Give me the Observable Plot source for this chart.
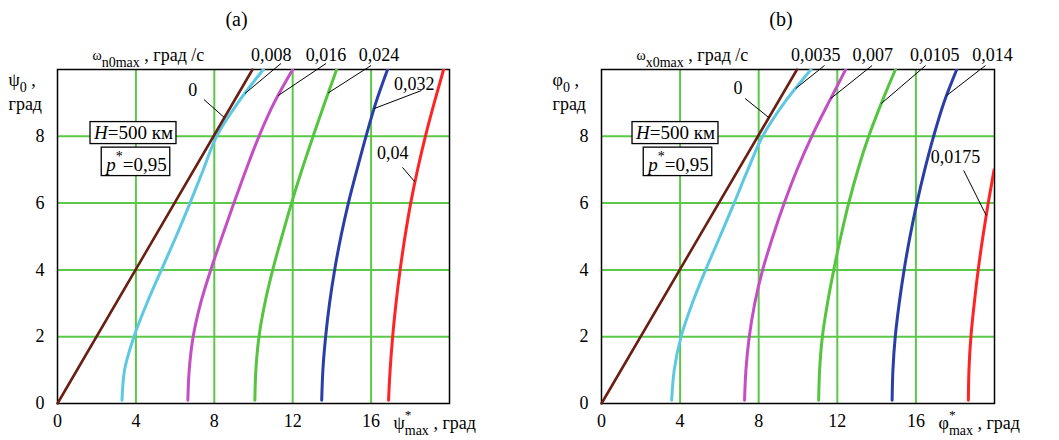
<!DOCTYPE html>
<html><head><meta charset="utf-8">
<script src="https://cdn.jsdelivr.net/npm/d3@7"></script>
<script src="https://cdn.jsdelivr.net/npm/@observablehq/plot@0.6"></script>
<style>
body{margin:0;background:#fff;}
#wrap{display:flex;width:1059px;height:440px;overflow:hidden;}
svg, svg text, svg tspan{font-family:"Liberation Serif","Times New Roman",serif !important;}
</style></head><body><div id="wrap"></div>
<script>
// ---------- shared data ----------
const yLevels = [0.1, 1, 2, 3, 4, 5, 6, 7, 8, 9, 10];
const baseY = [0, 10];
const baseX = [0, 9.95];
const xTicks = [0, 4, 8, 12, 16];
const yTicks = [0, 2, 4, 6, 8];
const xGrid = [4, 8, 12, 16];
const yGrid = [2, 4, 6, 8];
const colors = ["#6a1f12", "#5ec8e2", "#c44ec4", "#55c43f", "#2a3ea8", "#ff2424"];

// ---------- panel (a) ----------
const titleA = "(a)";
const legendTitleA = "!{ω}_{n0max} , град /с";
const yTitleA = "ψ_{0} ,";
const xTitleA = "ψ^{*}_{max} , град";
const labelsA = ["0", "0,008", "0,016", "0,024", "0,032", "0,04"];
const cyanA    = [3.29, 3.42, 3.90, 4.56, 5.30, 6.05, 6.76, 7.44, 8.12, 9.20, 10.50];
const magentaA = [6.65, 6.72, 6.92, 7.30, 7.82, 8.40, 9.00, 9.62, 10.28, 11.05, 12.00];
const greenA   = [10.07, 10.12, 10.28, 10.58, 10.98, 11.45, 11.94, 12.47, 13.04, 13.63, 14.24];
const blueA    = [13.48, 13.54, 13.68, 13.88, 14.14, 14.46, 14.84, 15.28, 15.74, 16.24, 16.84];
const redA     = [16.89, 16.97, 17.10, 17.27, 17.48, 17.73, 18.02, 18.37, 18.77, 19.22, 19.70];
const labelXA  = [6.9, 10.9, 13.7, 16.4, 18.2, 17.1];
const labelYA  = [9.37, 10.42, 10.42, 10.42, 9.55, 7.5];
const leadXA   = [7.47, 11.4, 13.7, 16.0, 18.57, 17.6];
const leadYA   = [9.1, 10.18, 10.18, 10.12, 9.37, 7.07];
const targetYA = [8.56, 9.28, 9.22, 9.3, 8.83, 6.63];

// ---------- panel (b) ----------
const titleB = "(b)";
const legendTitleB = "!{ω}_{x0max} , град /с";
const yTitleB = "φ_{0} ,";
const xTitleB = "φ^{*}_{max} , град";
const labelsB = ["0", "0,0035", "0,007", "0,0105", "0,014", "0,0175"];
const cyanB    = [3.57, 3.70, 4.05, 4.62, 5.30, 6.03, 6.75, 7.45, 8.20, 9.30, 10.66];
const magentaB = [7.28, 7.35, 7.52, 7.80, 8.20, 8.72, 9.30, 9.95, 10.70, 11.55, 12.43];
const greenB   = [11.05, 11.10, 11.24, 11.50, 11.82, 12.18, 12.58, 13.05, 13.60, 14.25, 14.96];
const blueB    = [14.79, 14.83, 14.95, 15.15, 15.40, 15.70, 16.05, 16.45, 16.90, 17.42, 18.08];
const redB     = [18.67, 18.70, 18.80, 18.97, 19.17, 19.41, 19.68, 19.98];
const labelXB  = [6.95, 10.9, 13.8, 16.96, 19.9, 18.02];
const labelYB  = [9.43, 10.42, 10.42, 10.42, 10.42, 7.37];
const leadXB   = [7.31, 11.35, 13.77, 16.5, 19.54, 18.43];
const leadYB   = [9.13, 10.12, 10.12, 10.12, 10.12, 6.98];
const targetYB = [8.56, 9.43, 9.13, 8.98, 9.22, 5.63];

const unitText = "град";
const boxH = "~{H}=500 км";
const boxP = "~{p}^{*}=0,95";

// ---------- helpers ----------
const FONT = "'Liberation Serif', 'Times New Roman', serif";

function interpX(xs, ys, ty) {
  for (let i = 0; i < xs.length - 1; i++) {
    if (ty >= ys[i] && ty <= ys[i + 1]) {
      const t = (ty - ys[i]) / (ys[i + 1] - ys[i]);
      return xs[i] + t * (xs[i + 1] - xs[i]);
    }
  }
  return xs[xs.length - 1];
}

function makePanel(P) {
  const series = [
    {x: baseX, y: baseY},
    ...P.curves.map(xs => ({x: xs, y: yLevels.slice(0, xs.length)}))
  ];
  const rows = [];
  series.forEach((s, k) => { if (k > 0) s.x.forEach((x, j) => rows.push({x, y: s.y[j], k})); });
  const baseRows = baseX.map((x, j) => ({x, y: baseY[j]}));
  const ann = P.labels.map((text, i) => ({
    text,
    lx: P.labelX[i], ly: P.labelY[i],
    sx: P.leadX[i], sy: P.leadY[i],
    tx: interpX(series[i].x, series[i].y, P.targetY[i]), ty: P.targetY[i]
  }));
  const txt = {fill: "black", stroke: null, fontFamily: FONT, lineAnchor: "middle"};
  return Plot.plot({
    width: P.width, height: 440,
    marginLeft: P.ml, marginRight: P.mr, marginTop: 69, marginBottom: 37,
    x: {domain: [0, 20], ticks: xTicks, tickSize: 0, tickPadding: 11, label: null, tickFormat: d => String(d)},
    y: {domain: [0, 10], ticks: yTicks, tickSize: 0, tickPadding: 13, label: null, tickFormat: d => String(d)},
    style: {fontFamily: FONT, fontSize: "18px", color: "black", background: "white", overflow: "visible"},
    marks: [
      Plot.gridX(xGrid, {stroke: "#5cc84a", strokeOpacity: 1, strokeWidth: 2}),
      Plot.gridY(yGrid, {stroke: "#5cc84a", strokeOpacity: 1, strokeWidth: 2}),
      Plot.frame({stroke: "black", strokeWidth: 1.5}),
      Plot.line(rows, {x: "x", y: "y", z: "k", stroke: d => colors[d.k], strokeWidth: 3, curve: "monotone-y", clip: true}),
      Plot.line(baseRows, {x: "x", y: "y", stroke: colors[0], strokeWidth: 2.6}),
      Plot.link(ann, {x1: "sx", y1: "sy", x2: "tx", y2: "ty", stroke: "black", strokeWidth: 1}),
      Plot.text(ann, {x: "lx", y: "ly", text: "text", fontSize: 18, textAnchor: "middle", ...txt}),
      Plot.text([P.title], {frameAnchor: "top", dx: -17, dy: -50, fontSize: 20, textAnchor: "middle", ...txt}),
      Plot.text([P.legendTitle], {frameAnchor: "top-left", dx: 35, dy: -14, textAnchor: "start", fontSize: 18, ...txt}),
      Plot.text([P.yTitle], {frameAnchor: "top-left", dx: -49, dy: 11, textAnchor: "start", fontSize: 18, ...txt}),
      Plot.text([unitText], {frameAnchor: "top-left", dx: -49, dy: 35, textAnchor: "start", fontSize: 18, ...txt}),
      Plot.text([P.xTitle], {frameAnchor: "bottom-right", dx: -56, dy: 20, textAnchor: "start", fontSize: 18, ...txt}),
      Plot.text([boxH], {frameAnchor: "top-left", dx: P.boxDx, dy: 63.5, fontSize: 19, textAnchor: "middle", ariaLabel: () => "boxed", ...txt}),
      Plot.text([boxP], {frameAnchor: "top-left", dx: P.boxDx + 3, dy: 95.5, fontSize: 19, textAnchor: "middle", ariaLabel: () => "boxed", ...txt})
    ]
  });
}

function richify(root) {
  const NS = "http://www.w3.org/2000/svg";
  root.querySelectorAll("text").forEach(t => {
    const s = t.textContent;
    if (!/[_^~!]\{/.test(s)) return;
    const parts = s.split(/([_^~!]\{[^}]*\})/).filter(p => p !== "");
    const fs = parseFloat(getComputedStyle(t).fontSize) || 17;
    while (t.firstChild) t.removeChild(t.firstChild);
    let shift = 0, prevKind = null, lastSupLen = 0;
    parts.forEach(p => {
      const ts = document.createElementNS(NS, "tspan");
      let kind = "n", str = p;
      const m = p.match(/^([_^~!])\{([^}]*)\}$/);
      if (m) { kind = m[1]; str = m[2]; }
      let target = 0;
      if (kind === "_") { target = fs * 0.3; ts.setAttribute("font-size", (fs * 0.78).toFixed(1)); }
      else if (kind === "^") { target = -fs * 0.55; ts.setAttribute("font-size", (fs * 0.74).toFixed(1)); }
      else if (kind === "!") { target = -fs * 0.05; ts.setAttribute("font-size", (fs * 0.78).toFixed(1)); }
      else if (kind === "~") { ts.setAttribute("font-style", "italic"); }
      const dy = target - shift;
      if (Math.abs(dy) > 0.01) ts.setAttribute("dy", dy.toFixed(2));
      shift = target;
      ts.textContent = str;
      t.appendChild(ts);
      if (kind === "_" && prevKind === "^") ts.setAttribute("dx", (-lastSupLen).toFixed(2));
      if (kind === "^") lastSupLen = ts.getComputedTextLength();
      prevKind = kind;
    });
  });
}

function boxify(root) {
  const NS = "http://www.w3.org/2000/svg";
  root.querySelectorAll('[aria-label="boxed"]').forEach(el => {
    const texts = el.tagName.toLowerCase() === "text" ? [el] : Array.from(el.querySelectorAll("text"));
    texts.forEach(t => {
      const b = t.getBBox();
      const r = document.createElementNS(NS, "rect");
      const px = 3, py = 0.5;
      r.setAttribute("x", b.x - px);
      r.setAttribute("y", b.y - py);
      r.setAttribute("width", b.width + 2 * px);
      r.setAttribute("height", b.height + 2 * py);
      r.setAttribute("fill", "white");
      r.setAttribute("stroke", "black");
      r.setAttribute("stroke-width", "1.3");
      const tr = t.getAttribute("transform");
      if (tr) r.setAttribute("transform", tr);
      t.parentNode.insertBefore(r, t);
    });
  });
}

const wrap = document.getElementById("wrap");
const panels = [
  {width: 530, ml: 57, mr: 81, title: titleA, legendTitle: legendTitleA, yTitle: yTitleA, xTitle: xTitleA,
   labels: labelsA, curves: [cyanA, magentaA, greenA, blueA, redA],
   labelX: labelXA, labelY: labelYA, leadX: leadXA, leadY: leadYA, targetY: targetYA, boxDx: 76},
  {width: 529, ml: 71, mr: 65, title: titleB, legendTitle: legendTitleB, yTitle: yTitleB, xTitle: xTitleB,
   labels: labelsB, curves: [cyanB, magentaB, greenB, blueB, redB],
   labelX: labelXB, labelY: labelYB, leadX: leadXB, leadY: leadYB, targetY: targetYB, boxDx: 74}
];
panels.forEach(P => {
  const svg = makePanel(P);
  wrap.appendChild(svg);
  richify(svg);
  boxify(svg);
});
</script>
</body></html>
